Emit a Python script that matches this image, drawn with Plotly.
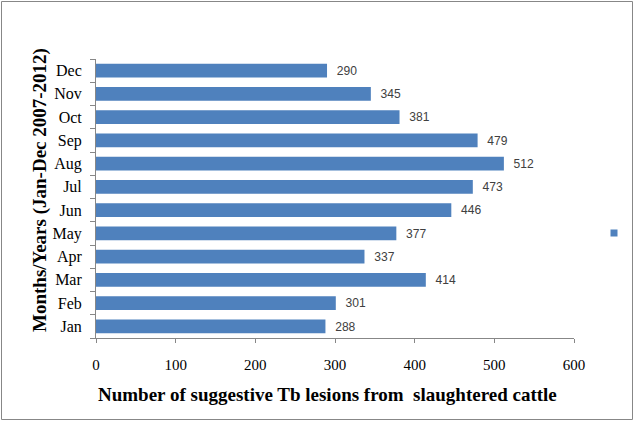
import plotly.graph_objects as go

months = ["Jan", "Feb", "Mar", "Apr", "May", "Jun", "Jul", "Aug", "Sep", "Oct", "Nov", "Dec"]
lesions = [288, 301, 414, 337, 377, 446, 473, 512, 479, 381, 345, 290]
x_ticks = [0, 100, 200, 300, 400, 500, 600]

W, H = 635, 422
ML, MR, MT, MB = 96, 61, 59, 84
PW, PH = W - ML - MR, H - MT - MB

bar_color = "#4F81BD"
serif = "Liberation Serif, Times New Roman, serif"

fig = go.Figure()
fig.add_trace(go.Bar(
    y=months, x=lesions, orientation="h",
    marker=dict(color=bar_color, line=dict(width=0)),
    text=lesions, texttemplate="  %{x}", textposition="outside",
    textfont=dict(family="Liberation Sans, Arial, sans-serif", size=13, color="#404040"),
    cliponaxis=False, showlegend=False,
))
fig.add_trace(go.Scatter(
    x=[None], y=[None], mode="markers", name=" ",
    marker=dict(symbol="square", size=7, color=bar_color), showlegend=True,
))

fig.update_layout(
    width=W, height=H,
    margin=dict(l=ML, r=MR, t=MT, b=MB, pad=0, autoexpand=False),
    paper_bgcolor="white", plot_bgcolor="white",
    bargap=0.4,
    font=dict(family=serif, size=15, color="#000000"),
    xaxis=dict(
        range=[0, 600], tickvals=x_ticks, ticktext=[str(v) for v in x_ticks],
        showgrid=False, zeroline=False, showline=True, linecolor="#878787", linewidth=1,
        ticks="outside", ticklen=4, tickcolor="#878787",
        tickfont=dict(family=serif, size=15, color="#000000"),
        ticklabelstandoff=9, automargin=False,
    ),
    yaxis=dict(
        categoryorder="array", categoryarray=months,
        showgrid=False, zeroline=False, showline=True, linecolor="#878787", linewidth=1,
        ticks="outside", ticklen=5, tickcolor="#878787", tickson="boundaries",
        tickfont=dict(family=serif, size=16, color="#000000"),
        ticklabelstandoff=10, automargin=False,
    ),
    legend=dict(xref="container", yref="container", x=594 / W, y=1 - 233 / H,
                xanchor="left", yanchor="middle",
                bgcolor="rgba(0,0,0,0)", font=dict(size=10), itemwidth=30,
                tracegroupgap=0),
    annotations=[
        dict(text="<b>Number of suggestive Tb lesions from  slaughtered cattle</b>",
             xref="paper", yref="paper", x=(327 - ML) / PW, y=-(394 - MT - PH) / PH,
             xanchor="center", yanchor="middle", showarrow=False,
             font=dict(family=serif, size=19, color="#000000")),
        dict(text="<b>Months/Years (Jan-Dec 2007-2012)</b>",
             xref="paper", yref="paper", x=-(ML - 40) / PW, y=1 - (190 - MT) / PH,
             xanchor="center", yanchor="middle", textangle=-90, showarrow=False,
             font=dict(family=serif, size=19, color="#000000")),
    ],
    shapes=[
        dict(type="rect", xref="paper", yref="paper",
             x0=-(ML - 1.5) / PW, x1=1 + (MR - 2.5) / PW,
             y0=-(MB - 2.5) / PH, y1=1 + (MT - 1.5) / PH,
             line=dict(color="#878787", width=1), fillcolor="rgba(0,0,0,0)", layer="below"),
    ],
)

fig.write_html("out.html", config={"displayModeBar": False},
               post_script="document.body.style.margin='0';document.body.style.overflow='hidden';")
